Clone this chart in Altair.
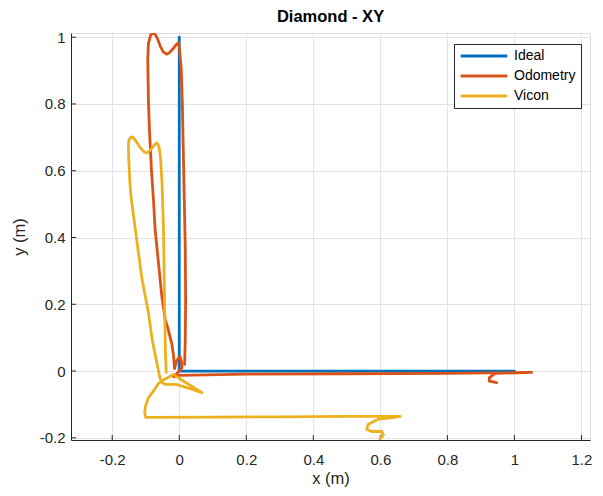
import altair as alt
import pandas as pd

# ---------------- data ----------------
series_names = ["Ideal", "Odometry", "Vicon"]
series_colors = ["#0072BD", "#D95319", "#EDB120"]

ideal_x = [0.0, 0.0, 1.0]
ideal_y = [1.0, 0.0, 0.0]

odom_x = [0.016, 0.018, 0.019, 0.018, 0.015, 0.012, 0.009, 0.006, 0.001, -0.002,
          -0.012, -0.021, -0.030, -0.037, -0.048, -0.057, -0.066, -0.075, -0.085, -0.092,
          -0.094, -0.093, -0.092, -0.089, -0.083, -0.077, -0.072, -0.063, -0.052, -0.042,
          -0.033, -0.022, -0.017, -0.014, -0.008, 0.002, 0.007, 0.008, -0.005, -0.017,
          0.000, 0.200, 0.500, 0.800, 1.051, 0.950, 0.942, 0.925, 0.925, 0.947]
odom_y = [0.020, 0.095, 0.214, 0.364, 0.513, 0.663, 0.812, 0.902, 0.962, 0.984,
          0.974, 0.962, 0.953, 0.949, 0.956, 0.974, 0.998, 1.014, 1.007, 0.982,
          0.932, 0.872, 0.812, 0.723, 0.603, 0.513, 0.424, 0.334, 0.224, 0.155,
          0.125, 0.080, 0.045, 0.007, 0.030, 0.045, 0.025, 0.010, -0.005, -0.017,
          -0.013, -0.009, -0.008, -0.007, -0.004, -0.007, -0.008, -0.020, -0.030, -0.035]

vicon_x = [-0.039, -0.041, -0.042, -0.044, -0.047, -0.050, -0.052, -0.056, -0.060, -0.064,
           -0.069, -0.078, -0.088, -0.096, -0.106, -0.116, -0.128, -0.138, -0.144, -0.150,
           -0.152, -0.150, -0.147, -0.144, -0.131, -0.111, -0.092, -0.081, -0.066, -0.057,
           -0.052, -0.045, -0.035, -0.017, 0.020, 0.068, 0.030, -0.010, -0.042, -0.055,
           -0.062, -0.077, -0.092, -0.101, -0.103, -0.100, 0.100, 0.300, 0.500, 0.659,
           0.630, 0.594, 0.564, 0.559, 0.574, 0.604, 0.609, 0.602, 0.599]
vicon_y = [-0.004, 0.050, 0.095, 0.224, 0.424, 0.520, 0.573, 0.640, 0.670, 0.680,
           0.683, 0.672, 0.660, 0.653, 0.657, 0.669, 0.687, 0.700, 0.701, 0.692,
           0.673, 0.620, 0.560, 0.523, 0.424, 0.274, 0.175, 0.095, 0.020, -0.023,
           -0.030, -0.025, -0.020, -0.010, -0.035, -0.065, -0.052, -0.040, -0.040, -0.032,
           -0.037, -0.060, -0.080, -0.105, -0.125, -0.139, -0.138, -0.137, -0.136, -0.136,
           -0.140, -0.144, -0.159, -0.174, -0.181, -0.181, -0.191, -0.199, -0.205]

x_ticks = [-0.2, 0, 0.2, 0.4, 0.6, 0.8, 1, 1.2]
y_ticks = [-0.2, 0, 0.2, 0.4, 0.6, 0.8, 1]
x_domain = [-0.323, 1.2255]
y_domain = [-0.2065, 1.0125]

# ---------------- build table ----------------
rows = []
for name, xs, ys in zip(series_names, [ideal_x, odom_x, vicon_x], [ideal_y, odom_y, vicon_y]):
    for i, (xv, yv) in enumerate(zip(xs, ys)):
        rows.append({"series": name, "x": xv, "y": yv, "i": i})
df = pd.DataFrame(rows)

FONT = "Liberation Sans"
AX = "#262626"
W, H = 519, 407

xscale = alt.Scale(domain=x_domain, nice=False, zero=False)
yscale = alt.Scale(domain=y_domain, nice=False, zero=False)

x_axis = alt.Axis(values=x_ticks, title="x (m)", grid=True, gridColor="#e3e3e3",
                  ticks=False, labelPadding=12, labelFontSize=15, labelFont=FONT,
                  labelColor=AX, titleFont=FONT, titleFontSize=16.5, titleFontWeight="normal",
                  titleColor=AX, titlePadding=3, domainColor=AX,
                  labelExpr="datum.value + ''")
y_axis = alt.Axis(values=y_ticks, title="y (m)", grid=True, gridColor="#e3e3e3",
                  ticks=False, labelPadding=6, labelFontSize=15, labelFont=FONT,
                  labelColor=AX, titleFont=FONT, titleFontSize=16.5, titleFontWeight="normal",
                  titleColor=AX, titlePadding=12, domainColor=AX,
                  labelExpr="datum.value + ''")

lines = alt.Chart(df).mark_line(strokeWidth=2.8, clip=True, strokeJoin="round",
                                strokeCap="round").encode(
    x=alt.X("x:Q", scale=xscale, axis=x_axis),
    y=alt.Y("y:Q", scale=yscale, axis=y_axis),
    color=alt.Color("series:N",
                    scale=alt.Scale(domain=series_names, range=series_colors),
                    legend=alt.Legend(title=None, orient="none", legendX=383, legendY=11,
                                      symbolType="stroke", symbolSize=2180,
                                      symbolStrokeWidth=2.8, labelFontSize=14,
                                      labelFont=FONT, labelColor="black",
                                      strokeColor=AX, fillColor="white",
                                      clipHeight=14,
                                      padding=5, rowPadding=6, labelOffset=5)),
    order="i:Q",
)

xt = alt.Chart(pd.DataFrame({"x": x_ticks})).mark_rule(color=AX, strokeWidth=1).encode(
    x=alt.X("x:Q", scale=xscale, axis=x_axis),
    y=alt.value(H), y2=alt.value(H - 5),
)
yt = alt.Chart(pd.DataFrame({"y": y_ticks})).mark_rule(color=AX, strokeWidth=1).encode(
    y=alt.Y("y:Q", scale=yscale, axis=y_axis),
    x=alt.value(0), x2=alt.value(5),
)

chart = alt.layer(xt, yt, lines).properties(
    width=W, height=H,
    title=alt.TitleParams("Diamond - XY", fontSize=16.5, fontWeight="bold", font=FONT,
                          color="black", anchor="middle", offset=5),
    autosize=alt.AutoSizeParams(type="none"),
    padding={"left": 63, "top": 25, "right": 5, "bottom": 48},
).configure_view(stroke=None).configure(background="white")

chart.save("out.html", embed_options={"renderer": "svg", "actions": False})
